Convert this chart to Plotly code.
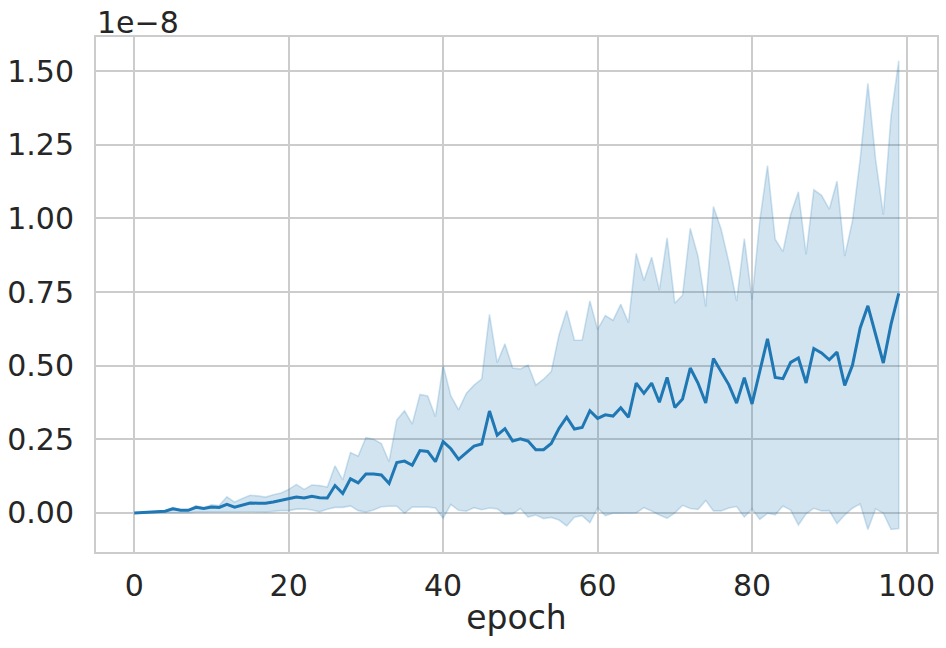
import plotly.graph_objects as go

epochs = list(range(100))

# mean values (units of 1e-8)
mean_vals = [0, 0.001, 0.002, 0.004, 0.006, 0.014, 0.009, 0.009, 0.019, 0.015,
             0.02, 0.019, 0.029, 0.02, 0.026, 0.034, 0.033, 0.033, 0.037, 0.043,
             0.048, 0.054, 0.051, 0.057, 0.052, 0.051, 0.093, 0.066, 0.116, 0.102,
             0.132, 0.132, 0.129, 0.10, 0.171, 0.176, 0.162, 0.212, 0.209, 0.174,
             0.242, 0.218, 0.182, 0.206, 0.227, 0.234, 0.346, 0.264, 0.286, 0.244,
             0.252, 0.244, 0.215, 0.215, 0.236, 0.287, 0.325, 0.285, 0.29, 0.347,
             0.321, 0.333, 0.329, 0.357, 0.325, 0.441, 0.406, 0.441, 0.376, 0.46,
             0.358, 0.387, 0.492, 0.441, 0.373, 0.524, 0.48, 0.435, 0.373, 0.459,
             0.37, 0.478, 0.591, 0.46, 0.456, 0.511, 0.526, 0.441, 0.558, 0.543,
             0.52, 0.546, 0.433, 0.501, 0.628, 0.703, 0.605, 0.509, 0.641, 0.745]

upper_vals = [0, 0.001, 0.002, 0.004, 0.007, 0.019, 0.011, 0.011, 0.025, 0.018,
              0.028, 0.025, 0.055, 0.037, 0.049, 0.06, 0.058, 0.054, 0.062, 0.068,
              0.08, 0.097, 0.08, 0.095, 0.093, 0.088, 0.16, 0.112, 0.205, 0.193,
              0.256, 0.25, 0.236, 0.174, 0.316, 0.347, 0.302, 0.402, 0.397, 0.327,
              0.502, 0.397, 0.35, 0.406, 0.434, 0.455, 0.674, 0.51, 0.574, 0.492,
              0.489, 0.502, 0.434, 0.454, 0.48, 0.604, 0.687, 0.586, 0.586, 0.72,
              0.623, 0.67, 0.654, 0.708, 0.646, 0.881, 0.789, 0.868, 0.756, 0.934,
              0.712, 0.739, 0.966, 0.872, 0.7, 1.04, 0.963, 0.851, 0.719, 0.931,
              0.725, 0.991, 1.179, 0.929, 0.887, 1.013, 1.09, 0.878, 1.097, 1.078,
              1.031, 1.126, 0.872, 0.991, 1.2, 1.458, 1.2, 1.012, 1.346, 1.535]

lower_vals = [0, 0, 0, 0, 0.001, 0.002, 0.001, 0.001, 0.003, 0.002,
              0.003, 0.003, 0.004, 0.002, 0.003, 0.004, 0.004, 0.003, 0.006, 0.008,
              0.008, 0.013, 0.014, 0.01, 0.004, 0.013, 0.019, 0.019, 0.024, 0.008,
              0.003, 0.01, 0.021, 0.023, 0.023, -0.001, 0.02, 0.02, 0.02, 0.017,
              -0.018, 0.029, 0.009, 0.006, 0.018, 0.011, 0.017, 0.014, -0.005, -0.003,
              0.015, -0.014, -0.007, -0.019, -0.015, -0.024, -0.044, -0.014, -0.009, -0.033,
              0.017, -0.009, -0.001, 0, 0, 0, 0.018, 0.007, -0.007, -0.018,
              0, 0.026, 0.015, 0.012, 0.042, 0.007, 0.007, 0.017, 0.022, -0.014,
              0.014, -0.022, -0.001, -0.006, 0.024, 0.01, -0.041, -0.003, 0.016, 0.007,
              0.008, -0.036, -0.007, 0.016, 0.031, -0.056, 0.014, -0.001, -0.056, -0.053]

x_ticks = [0, 20, 40, 60, 80, 100]
y_ticks = [0.0, 0.25, 0.5, 0.75, 1.0, 1.25, 1.5]
y_tick_labels = ["0.00", "0.25", "0.50", "0.75", "1.00", "1.25", "1.50"]
offset_text = "1e\u22128"
x_label = "epoch"

BLUE = "#1f77b4"
BAND = "rgba(31,119,180,0.2)"
TEXT = "#262626"
GRID = "#cccccc"
FONT = "DejaVu Sans"

fig = go.Figure()
fig.add_trace(go.Scatter(
    x=epochs + epochs[::-1],
    y=upper_vals + lower_vals[::-1],
    fill="toself", fillcolor=BAND,
    line=dict(color=BAND, width=1.6),
    mode="lines", hoverinfo="skip", showlegend=False,
))
fig.add_trace(go.Scatter(
    x=epochs, y=mean_vals, mode="lines",
    line=dict(color=BLUE, width=3), showlegend=False,
))

fig.update_layout(
    width=946, height=648,
    margin=dict(l=96, r=9, t=37, b=96),
    paper_bgcolor="white", plot_bgcolor="white",
    font=dict(family=FONT, color=TEXT, size=30),
    xaxis=dict(
        range=[-4.95, 103.95], tickvals=x_ticks, automargin=False,
        showgrid=True, gridcolor=GRID, gridwidth=2,
        showline=True, linecolor=GRID, linewidth=2, mirror=True,
        zeroline=False, ticks="outside", ticklen=6, tickcolor="rgba(0,0,0,0)",
        tickfont=dict(size=30, color=TEXT, family=FONT),
        title=dict(text=x_label, font=dict(size=33, color=TEXT, family=FONT), standoff=4),
    ),
    yaxis=dict(
        range=[-0.1324, 1.6154], tickvals=y_ticks, ticktext=y_tick_labels, automargin=False,
        showgrid=True, gridcolor=GRID, gridwidth=2,
        showline=True, linecolor=GRID, linewidth=2, mirror=True,
        zeroline=False, ticks="outside", ticklen=14, tickcolor="rgba(0,0,0,0)",
        tickfont=dict(size=30, color=TEXT, family=FONT),
    ),
    annotations=[dict(
        text=offset_text, xref="paper", yref="paper", x=0, y=1,
        xanchor="left", yanchor="bottom", showarrow=False, yshift=-4,
        borderpad=0, font=dict(size=30, color=TEXT, family=FONT),
    )],
)

fig.write_html("out.html",
               config={"displayModeBar": False},
               post_script="document.body.style.margin='0';document.body.style.overflow='hidden';")
